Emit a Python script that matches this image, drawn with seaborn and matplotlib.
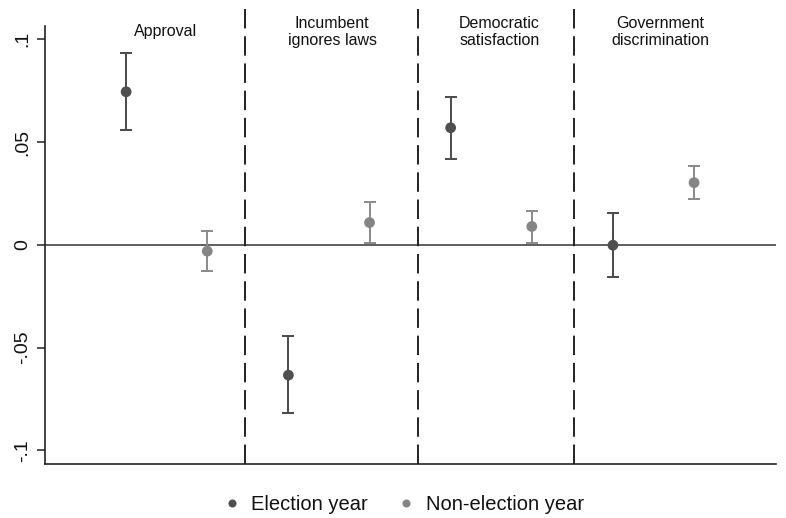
import matplotlib
matplotlib.use("Agg")
import matplotlib.pyplot as plt
import seaborn as sns
import pandas as pd
import numpy as np

# Estimates and 95% confidence intervals by outcome and election timing
outcomes = ["Approval", "Incumbent\nignores laws", "Democratic\nsatisfaction", "Government\ndiscrimination"]
groups = ["Election year", "Non-election year"]
election_est = [0.0744, -0.0634, 0.0569, -0.0002]
election_lo = [0.0560, -0.0819, 0.0419, -0.0157]
election_hi = [0.0933, -0.0445, 0.0720, 0.0153]
nonelection_est = [-0.0031, 0.0108, 0.0089, 0.0302]
nonelection_lo = [-0.0128, 0.0011, 0.0011, 0.0223]
nonelection_hi = [0.0065, 0.0210, 0.0166, 0.0382]

rows = []
for i, name in enumerate(outcomes):
    rows.append(dict(outcome=name, group=groups[0], pos=2 * i + 1,
                     est=election_est[i], lo=election_lo[i], hi=election_hi[i]))
    rows.append(dict(outcome=name, group=groups[1], pos=2 * i + 2,
                     est=nonelection_est[i], lo=nonelection_lo[i], hi=nonelection_hi[i]))
df = pd.DataFrame(rows)

sns.set_theme(style="white")
plt.rcParams["font.family"] = ["Liberation Sans", "DejaVu Sans"]

fig = plt.figure(figsize=(7.86, 5.18), dpi=100)
ax = fig.add_axes([45 / 786, (518 - 464) / 518, (776 - 45) / 786, (464 - 5) / 518])

marker_col = {groups[0]: "#4f4f4f", groups[1]: "#858585"}
bar_col = {groups[0]: "#4a4a4a", groups[1]: "#8a8a8a"}

ax.axhline(0, color="#333333", lw=1.1, zorder=1)
for xv in [2.464, 4.597, 6.52]:
    ax.axvline(xv, color="#222222", lw=1.4, dashes=(10, 4), zorder=1)

for g in groups:
    sub = df[df.group == g]
    ax.errorbar(sub.pos, sub.est, yerr=[sub.est - sub.lo, sub.hi - sub.est],
                fmt="none", ecolor=bar_col[g], elinewidth=1.4, capsize=4.2,
                capthick=1.4, zorder=2)

sns.scatterplot(data=df, x="pos", y="est", hue="group", palette=marker_col,
                s=60, edgecolor="none", ax=ax, zorder=3, legend=True)

# Outcome titles above each panel
label_x = [1.48, 3.54, 5.60, 7.58]
for i, name in enumerate(outcomes):
    ax.text(label_x[i], 0.1035, name, ha="center", va="center",
            fontsize=11.5, color="#111111", linespacing=1.2)

ax.set_xlim(0, 9.01)
ax.set_ylim(-0.1066, 0.1166)
ax.set_xticks([])
ax.set_yticks([0.1, 0.05, 0, -0.05, -0.1])
ax.set_yticklabels([".1", ".05", "0", "-.05", "-.1"], rotation=90, va="center",
                   fontsize=14, color="#111111")
ax.tick_params(axis="y", length=6, width=1.1, color="#222222", pad=4, left=True)
ax.set_xlabel("")
ax.set_ylabel("")

for side in ["top", "right"]:
    ax.spines[side].set_visible(False)
ax.spines["left"].set_bounds(-0.1066, 0.1066)
ax.spines["left"].set_color("#222222")
ax.spines["bottom"].set_color("#222222")
ax.spines["left"].set_linewidth(1.2)
ax.spines["bottom"].set_linewidth(1.2)

handles, labels = ax.get_legend_handles_labels()
leg = ax.legend(handles, labels, loc="upper center", bbox_to_anchor=(0.4897, -0.028),
                ncol=2, frameon=False, fontsize=14.5, handlelength=1.0,
                handletextpad=0.45, columnspacing=1.4, markerscale=0.75)
for t in leg.get_texts():
    t.set_color("#111111")

fig.savefig("out.png", dpi=100)
